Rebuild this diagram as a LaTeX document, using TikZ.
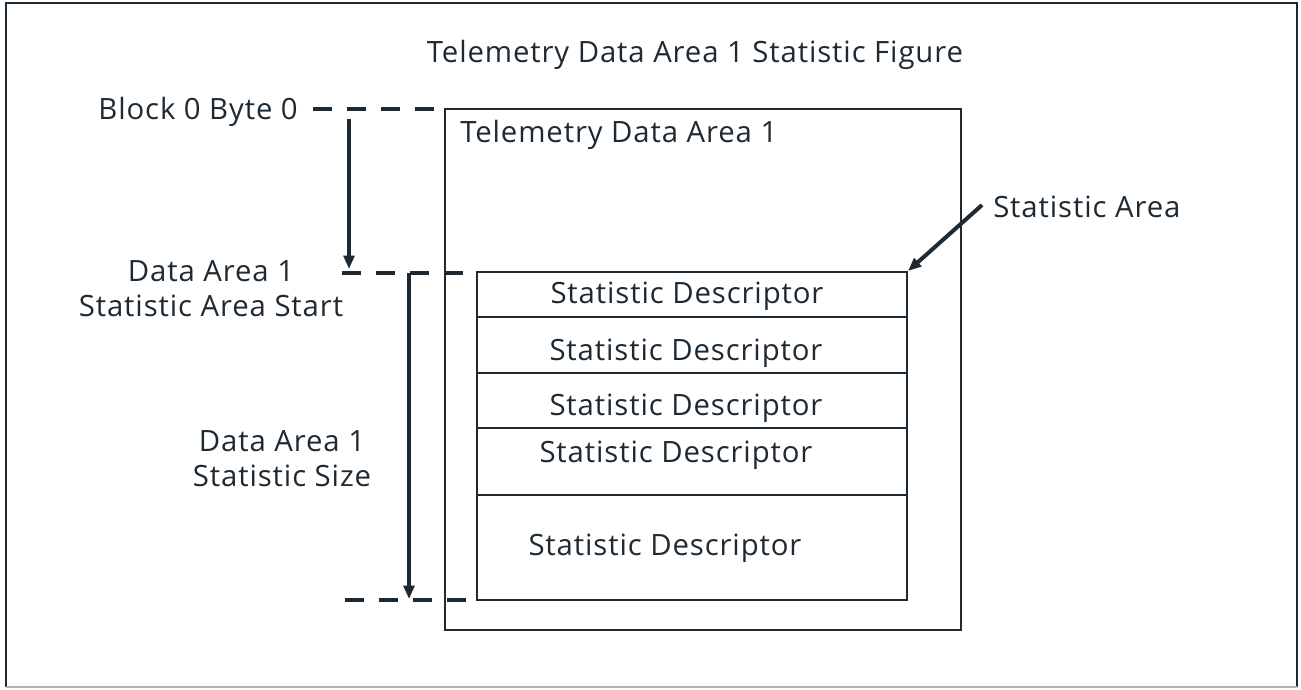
\documentclass[tikz,border=0pt]{standalone}
\usepackage{fontspec}
\setmainfont{Open Sans}[LetterSpace=3]
\usetikzlibrary{arrows.meta,positioning}
\definecolor{ink}{HTML}{1E2A33}

\begin{document}
\begin{tikzpicture}[
    x=0.75pt, y=-0.75pt,
    every node/.style={text=ink, font=\fontsize{22}{26.25}\selectfont},
    txt/.style={inner sep=0pt, align=center},
    area/.style={draw=ink, line width=1.5pt, inner sep=0pt},
    guide/.style={draw=ink, line width=3.6pt, dash pattern=on 14.25pt off 11.25pt},
    arrow/.style={draw=ink, line width=3pt, -{Stealth[length=10pt, width=8pt, inset=0pt]}}
]
\useasboundingbox (0,0) rectangle (1301,689);

% outer frame
\draw[ink, line width=2pt] (6,687) -- (6,3) -- (1297,3) -- (1297,687);
\draw[gray!60, line width=2pt] (6,687) -- (1297,687);

\node[txt, anchor=base] (title) at (695,62) {Telemetry Data Area 1 Statistic Figure};

% telemetry data area
\node[area, minimum width=516*0.75pt, minimum height=521*0.75pt] (tda) at (703,369.5) {};
\node[txt, anchor=base west] (tdalbl) at (460,142) {Telemetry Data Area 1};

% statistic descriptors
\foreach \name/\ycen/\h in {sd1/294.5/45, sd2/345/56, sd3/400.5/55, sd4/461.5/67, sd5/547.5/105}
    \node[area, minimum width=430*0.75pt, minimum height=\h*0.75pt] (\name) at (692,\ycen) {};
\foreach \x/\y [count=\i] in {687/303, 686/360, 686/415, 676/462, 665/555}
    \node[txt, anchor=base] (sdt\i) at (\x,\y) {Statistic Descriptor};

\node[txt, anchor=base west] (salbl) at (993,217) {Statistic Area};
\coordinate (sapt) at (982,205);
\draw[arrow] (sapt) -- (sd1.north east);

% offsets on the left
\node[txt, anchor=base east] (b0) at (298,119) {Block 0 Byte 0};
\node[txt] (start) at (211,289) {Data Area 1\\Statistic Area Start};
\node[txt] (size) at (282,459) {Data Area 1\\Statistic Size};

\coordinate (g1a) at (313,109);
\coordinate (g1b) at (437,109);
\coordinate (g2a) at (342,273);
\coordinate (g2b) at (467,273);
\coordinate (g3a) at (345,600);
\coordinate (g3b) at (469,600);
\draw[guide] (g1a) -- (g1b);
\draw[guide] (g2a) -- (g2b);
\draw[guide] (g3a) -- (g3b);

\coordinate (a1s) at (349,119);
\coordinate (a1e) at (349,269);
\coordinate (a2s) at (409,273);
\coordinate (a2e) at (409,599);
\draw[arrow] (a1s) -- (a1e);
\draw[arrow] (a2s) -- (a2e);
\end{tikzpicture}
\end{document}
